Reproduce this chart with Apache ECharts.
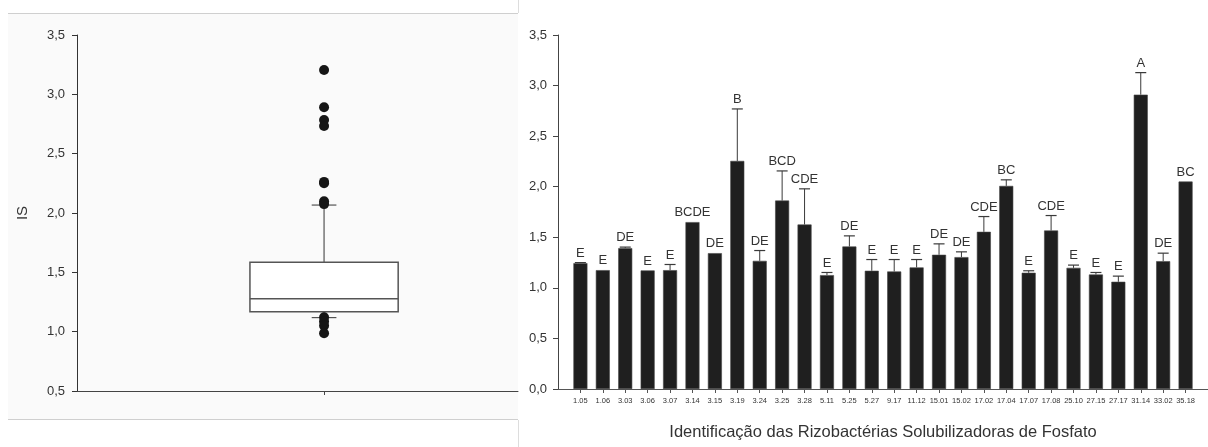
<!DOCTYPE html>
<html>
<head>
<meta charset="utf-8">
<script src="https://cdn.jsdelivr.net/npm/echarts@6/dist/echarts.min.js"></script>
<style>
  html, body { margin: 0; padding: 0; background: #ffffff; }
  #chart { width: 1208px; height: 447px; }
</style>
</head>
<body>
<div id="chart"></div>
<script>
// Left panel: distribution of IS over all isolates
const boxStats = { low: 1.118, q1: 1.168, median: 1.278, q3: 1.585, high: 2.067 };
const outliers = [3.205, 2.891, 2.784, 2.733, 2.262, 2.250, 2.098, 2.075, 1.122, 1.085, 1.050, 0.986];

// Right panel: mean IS per isolate, standard error and grouping letters
const strains = ['1.05', '1.06', '3.03', '3.06', '3.07', '3.14', '3.15', '3.19', '3.24', '3.25',
  '3.28', '5.11', '5.25', '5.27', '9.17', '11.12', '15.01', '15.02', '17.02', '17.04',
  '17.07', '17.08', '25.10', '27.15', '27.17', '31.14', '33.02', '35.18'];
const means = [1.245, 1.175, 1.393, 1.172, 1.175, 1.650, 1.343, 2.255, 1.267, 1.863,
  1.626, 1.126, 1.409, 1.169, 1.162, 1.202, 1.327, 1.304, 1.554, 2.008,
  1.149, 1.567, 1.198, 1.132, 1.060, 2.910, 1.264, 2.051];
const errors = [0.005, 0, 0.010, 0, 0.056, 0, 0, 0.514, 0.102, 0.293,
  0.353, 0.026, 0.105, 0.111, 0.118, 0.078, 0.108, 0.052, 0.151, 0.060,
  0.020, 0.148, 0.027, 0.020, 0.056, 0.218, 0.079, 0];
const letters = ['E', 'E', 'DE', 'E', 'E', 'BCDE', 'DE', 'B', 'DE', 'BCD',
  'CDE', 'E', 'DE', 'E', 'E', 'E', 'DE', 'DE', 'CDE', 'BC',
  'E', 'CDE', 'E', 'E', 'E', 'A', 'DE', 'BC'];

const xTitle = 'Identificação das Rizobactérias Solubilizadoras de Fosfato';
const yTitleLeft = 'IS';

const FONT = '"Liberation Sans", Arial, sans-serif';
const TEXT = '#333333';
const BOX_HALF = 0.3;   // half box width, in x units of the left panel
const CAP_HALF = 0.05;  // half whisker cap width
const comma = v => v.toFixed(1).replace('.', ',');
const idx = strains.map((_, i) => i);

const chart = echarts.init(document.getElementById('chart'), null, { renderer: 'canvas' });

const option = {
  animation: false,
  backgroundColor: '#ffffff',
  textStyle: { fontFamily: FONT, color: TEXT },
  graphic: [
    { type: 'rect', z: -10, silent: true, shape: { x: 8, y: 13, width: 510, height: 406 }, style: { fill: '#fafafa' } },
    { type: 'line', silent: true, shape: { x1: 8, y1: 13.5, x2: 518, y2: 13.5 }, style: { stroke: '#cfcfcf', lineWidth: 1 } },
    { type: 'line', silent: true, shape: { x1: 8, y1: 419.5, x2: 518, y2: 419.5 }, style: { stroke: '#cfcfcf', lineWidth: 1 } },
    { type: 'line', silent: true, shape: { x1: 518.5, y1: 0, x2: 518.5, y2: 13 }, style: { stroke: '#dddddd', lineWidth: 1 } },
    { type: 'line', silent: true, shape: { x1: 518.5, y1: 420, x2: 518.5, y2: 447 }, style: { stroke: '#dddddd', lineWidth: 1 } }
  ],
  grid: [
    { left: 77, top: 35, width: 441, height: 356 },
    { left: 558, top: 35, right: 0, height: 354 }
  ],
  xAxis: [
    {
      type: 'value', gridIndex: 0, min: 0, max: 1.785,
      axisLine: { show: true, onZero: false, lineStyle: { color: '#444', width: 1 } },
      axisTick: { show: true, customValues: [1], length: 4, lineStyle: { color: '#444' } },
      axisLabel: { show: false },
      splitLine: { show: false }
    },
    {
      type: 'value', gridIndex: 1, min: -1, max: 28,
      axisLine: { show: true, onZero: false, lineStyle: { color: '#555', width: 1 } },
      axisTick: { show: true, customValues: idx, length: 4, lineStyle: { color: '#555' } },
      axisLabel: {
        show: true, customValues: idx, fontSize: 7.5, color: TEXT, margin: 8, fontFamily: FONT,
        formatter: v => strains[Math.round(v)]
      },
      splitLine: { show: false },
      name: xTitle, nameLocation: 'middle', nameGap: 35,
      nameTextStyle: { fontSize: 16.5, color: TEXT, fontFamily: FONT }
    }
  ],
  yAxis: [
    {
      type: 'value', gridIndex: 0, min: 0.5, max: 3.5, interval: 0.5,
      axisLine: { show: true, onZero: false, lineStyle: { color: '#333', width: 1 } },
      axisTick: { show: true, length: 5, lineStyle: { color: '#333' } },
      axisLabel: { fontSize: 13, color: TEXT, margin: 12, formatter: comma, fontFamily: FONT },
      splitLine: { show: false },
      name: yTitleLeft, nameLocation: 'middle', nameGap: 47, nameRotate: 90,
      nameTextStyle: { fontSize: 15, color: TEXT, fontFamily: FONT }
    },
    {
      type: 'value', gridIndex: 1, min: 0, max: 3.5, interval: 0.5,
      axisLine: { show: true, onZero: false, lineStyle: { color: '#444', width: 1 } },
      axisTick: { show: true, length: 5, lineStyle: { color: '#444' } },
      axisLabel: { fontSize: 13, color: TEXT, margin: 11, formatter: comma, fontFamily: FONT },
      splitLine: { show: false }
    }
  ],
  series: [
    {
      // box with whiskers
      type: 'custom', xAxisIndex: 0, yAxisIndex: 0,
      data: [[1, boxStats.low, boxStats.q1, boxStats.median, boxStats.q3, boxStats.high]],
      encode: { x: 0, y: [1, 2, 3, 4, 5] },
      renderItem: (params, api) => {
        const x = api.value(0);
        const lo = api.value(1), q1 = api.value(2), md = api.value(3), q3 = api.value(4), hi = api.value(5);
        const c = (xv, yv) => api.coord([xv, yv]);
        const line = (a, b, stroke, w) => ({
          type: 'line',
          shape: { x1: a[0], y1: a[1], x2: b[0], y2: b[1] },
          style: { stroke: stroke, lineWidth: w }
        });
        const tl = c(x - BOX_HALF, q3), br = c(x + BOX_HALF, q1);
        return {
          type: 'group',
          children: [
            line(c(x, q3), c(x, hi), '#333', 1),
            line(c(x, q1), c(x, lo), '#333', 1),
            line(c(x - CAP_HALF, hi), c(x + CAP_HALF, hi), '#333', 1),
            line(c(x - CAP_HALF, lo), c(x + CAP_HALF, lo), '#333', 1),
            {
              type: 'rect',
              shape: { x: tl[0], y: tl[1], width: br[0] - tl[0], height: br[1] - tl[1] },
              style: { fill: '#ffffff', stroke: '#555', lineWidth: 1.5 }
            },
            line(c(x - BOX_HALF, md), c(x + BOX_HALF, md), '#555', 1.5)
          ]
        };
      },
      z: 2
    },
    {
      type: 'scatter', xAxisIndex: 0, yAxisIndex: 0,
      data: outliers.map(v => [1, v]),
      symbol: 'circle', symbolSize: 10,
      itemStyle: { color: '#161616', opacity: 1 },
      z: 3
    },
    {
      type: 'bar', xAxisIndex: 1, yAxisIndex: 1,
      data: means.map((v, i) => [i, v]),
      barWidth: 14,
      itemStyle: { color: '#1f1f1f', borderColor: '#444', borderWidth: 0.6 },
      z: 2
    },
    {
      // standard error bars and letters
      type: 'custom', xAxisIndex: 1, yAxisIndex: 1,
      data: means.map((v, i) => [i, v, errors[i]]),
      encode: { x: 0, y: 1 },
      renderItem: (params, api) => {
        const i = api.value(0), v = api.value(1), e = api.value(2);
        const base = api.coord([i, v]);
        const top = api.coord([i, v + e]);
        const children = [];
        if (e > 0) {
          children.push({
            type: 'line', shape: { x1: top[0], y1: base[1], x2: top[0], y2: top[1] },
            style: { stroke: '#3a3a3a', lineWidth: 1 }
          });
          children.push({
            type: 'line', shape: { x1: top[0] - 5.5, y1: top[1], x2: top[0] + 5.5, y2: top[1] },
            style: { stroke: '#3a3a3a', lineWidth: 1.2 }
          });
        }
        children.push({
          type: 'text',
          style: {
            x: top[0], y: top[1] - 3,
            text: letters[params.dataIndex],
            align: 'center', verticalAlign: 'bottom',
            font: '13px ' + FONT, fill: TEXT
          }
        });
        return { type: 'group', children: children };
      },
      z: 3
    }
  ]
};

chart.setOption(option);
</script>
</body>
</html>
